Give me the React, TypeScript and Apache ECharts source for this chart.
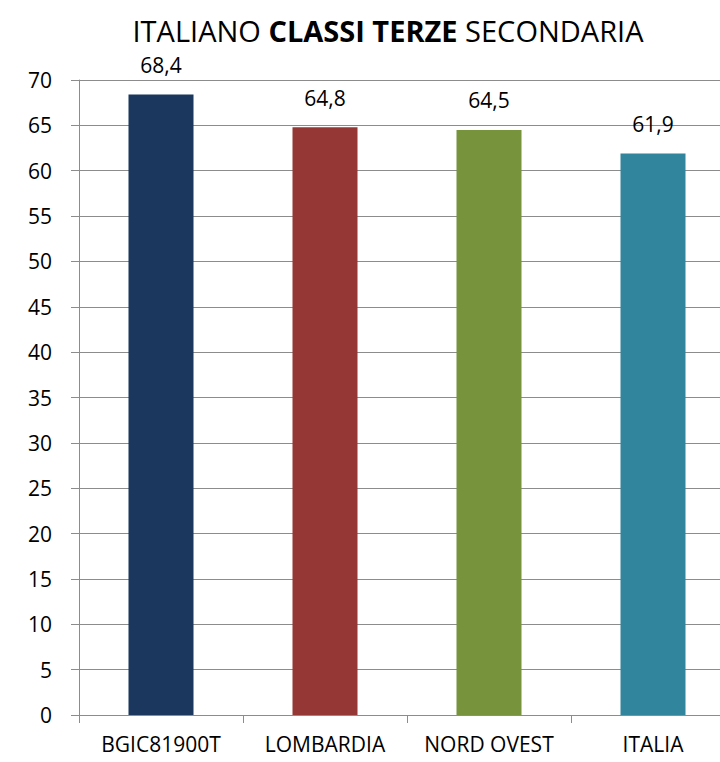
import React, { useEffect, useRef } from "react";
import * as echarts from "echarts";

const categories = ["BGIC81900T", "LOMBARDIA", "NORD OVEST", "ITALIA"];
const values = [68.4, 64.8, 64.5, 61.9];
const barColors = ["#1B375E", "#953735", "#77933C", "#31859C"];
const FONT = "'Open Sans', sans-serif";

export default function App() {
  const ref = useRef<HTMLDivElement>(null);
  useEffect(() => {
    const chart = echarts.init(ref.current!, null, { renderer: "svg" });
    chart.setOption({
      animation: false,
      backgroundColor: "#ffffff",
      title: {
        text: "{n|ITALIANO }{b|CLASSI TERZE}{n| SECONDARIA}",
        left: 383,
        top: 11,
        textAlign: "center",
        textStyle: {
          rich: {
            n: { fontFamily: FONT, fontSize: 29, fontWeight: "normal", color: "#000" },
            b: { fontFamily: FONT, fontSize: 29, fontWeight: "bold", color: "#000" },
          },
        },
      },
      grid: { left: 79, top: 80, right: 0, bottom: 47, containLabel: false },
      xAxis: {
        type: "category",
        data: categories,
        axisLine: { lineStyle: { color: "#8c8c8c", width: 1 } },
        axisTick: { show: true, length: 8, lineStyle: { color: "#8c8c8c" } },
        axisLabel: { fontFamily: FONT, fontSize: 21, color: "#000", margin: 18, interval: 0 },
      },
      yAxis: {
        type: "value",
        min: 0,
        max: 70,
        interval: 5,
        axisLine: { show: true, lineStyle: { color: "#8c8c8c", width: 1 } },
        axisTick: { show: true, length: 8, lineStyle: { color: "#8c8c8c" } },
        splitLine: { show: true, lineStyle: { color: "#8c8c8c", width: 1 } },
        axisLabel: { fontFamily: FONT, fontSize: 21, color: "#000", margin: 27 },
      },
      series: [
        {
          type: "bar",
          data: values.map((v, i) => ({ value: v, itemStyle: { color: barColors[i] } })),
          barWidth: 65,
          label: {
            show: true,
            position: "top",
            distance: 19,
            fontFamily: FONT,
            fontSize: 21,
            color: "#000",
            formatter: (p: any) => String(p.value).replace(".", ","),
          },
        },
      ],
    });
    return () => chart.dispose();
  }, []);
  return (
    <div
      style={{
        position: "absolute",
        left: 0,
        top: 0,
        width: 720,
        height: 762,
        overflow: "hidden",
      }}
    >
      <div ref={ref} style={{ width: 735, height: 762 }} />
    </div>
  );
}
